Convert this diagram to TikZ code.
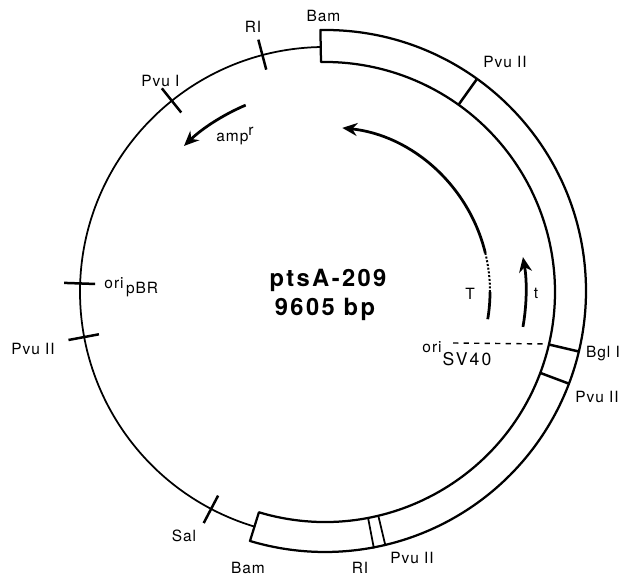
\documentclass[tikz,border=0pt]{standalone}
\usepackage{fontspec}
\setmainfont[LetterSpace=6]{TeX Gyre Heros}
\usetikzlibrary{arrows.meta}

\begin{document}
\begin{tikzpicture}[
  every node/.style={font=\fontsize{8.8}{10}\selectfont, inner sep=0pt},
  title/.style={font=\fontsize{13.5}{15}\selectfont\bfseries\addfontfeature{LetterSpace=10}},
  large/.style={font=\fontsize{10}{12}\selectfont\addfontfeature{LetterSpace=12}},
  ring/.style={line width=0.035cm},
  band/.style={line width=0.045cm, line join=round},
  cut/.style={line width=0.05cm},
  arr/.style={-{Stealth[length=3mm,width=2.6mm]}, line width=0.055cm}
]
  \useasboundingbox (0,0) rectangle (12.5,11.58);

  % Plasmid ring and the inserted segment
  \begin{scope}[shift={(6.5,5.74)}]
    \draw[ring] (91:4.9) arc[start angle=91, end angle=253.3, radius=4.9];
    \draw[band] (91:5.24) arc[start angle=91, end angle=-106.7, radius=5.22]
      -- (-106.7:4.6) arc[start angle=-106.7, end angle=91, radius=4.6] -- cycle;

    % Restriction sites
    \foreach \ang in {104.8,128.7,178,190.6,242.3,54.5,-13.2,-20.6}
      \draw[cut] (\ang:4.6) -- (\ang:5.22);
    \foreach \ang in {-79.2,-76.6}
      \draw[ring] (\ang:4.6) -- (\ang:5.22);

    % Transcripts
    \draw[arr] (13.7:3.3) arc[start angle=13.7, end angle=84, radius=3.3];
    \draw[arr] (-10:4.02) arc[start angle=-10, end angle=10, radius=4.02];
    \draw[arr] (113:4.06) arc[start angle=113, end angle=134, radius=4.06];
    \draw[line width=0.04cm, densely dotted] (13.7:3.3) arc[start angle=13.7, end angle=0, radius=3.3];
    \draw[line width=0.055cm] (0:3.3) arc[start angle=0, end angle=-9.5, radius=3.3];
  \end{scope}

  % ori SV40 marker
  \coordinate (svstart) at (9.06,4.72);
  \coordinate (svend) at (10.94,4.70);
  \draw[dashed, thick] (svstart) -- (svend);

  % Name of the plasmid
  \node[title] (name) at (6.56,5.98) {ptsA-209};
  \node[title] (size) at (6.5,5.4) {9605 bp};

  % Site labels
  \node (bamtop) at (6.47,11.26) {Bam};
  \node (pvutop) at (10.10,10.34) {Pvu II};
  \node (ritop) at (5.06,11.05) {RI};
  \node (pvuone) at (3.21,9.97) {Pvu I};
  \node (amp) at (4.7,8.86) {amp\raisebox{3pt}{r}};
  \node (oripbr) at (2.28,5.92) {ori};
  \node (pbr) at (2.84,5.78) {pBR};
  \node (pvuleft) at (0.66,4.61) {Pvu II};
  \node (tlong) at (9.40,5.70) {T};
  \node (tshort) at (10.72,5.72) {t};
  \node (orisv) at (8.64,4.64) {ori};
  \node[large] (sv) at (9.34,4.40) {SV40};
  \node (bgl) at (12.06,4.51) {Bgl I};
  \node (pvuright) at (11.94,3.64) {Pvu II};
  \node (sal) at (3.68,0.86) {Sal};
  \node (bambot) at (4.96,0.22) {Bam};
  \node (ribot) at (7.2,0.22) {RI};
  \node (pvubot) at (8.24,0.42) {Pvu II};
\end{tikzpicture}
\end{document}
